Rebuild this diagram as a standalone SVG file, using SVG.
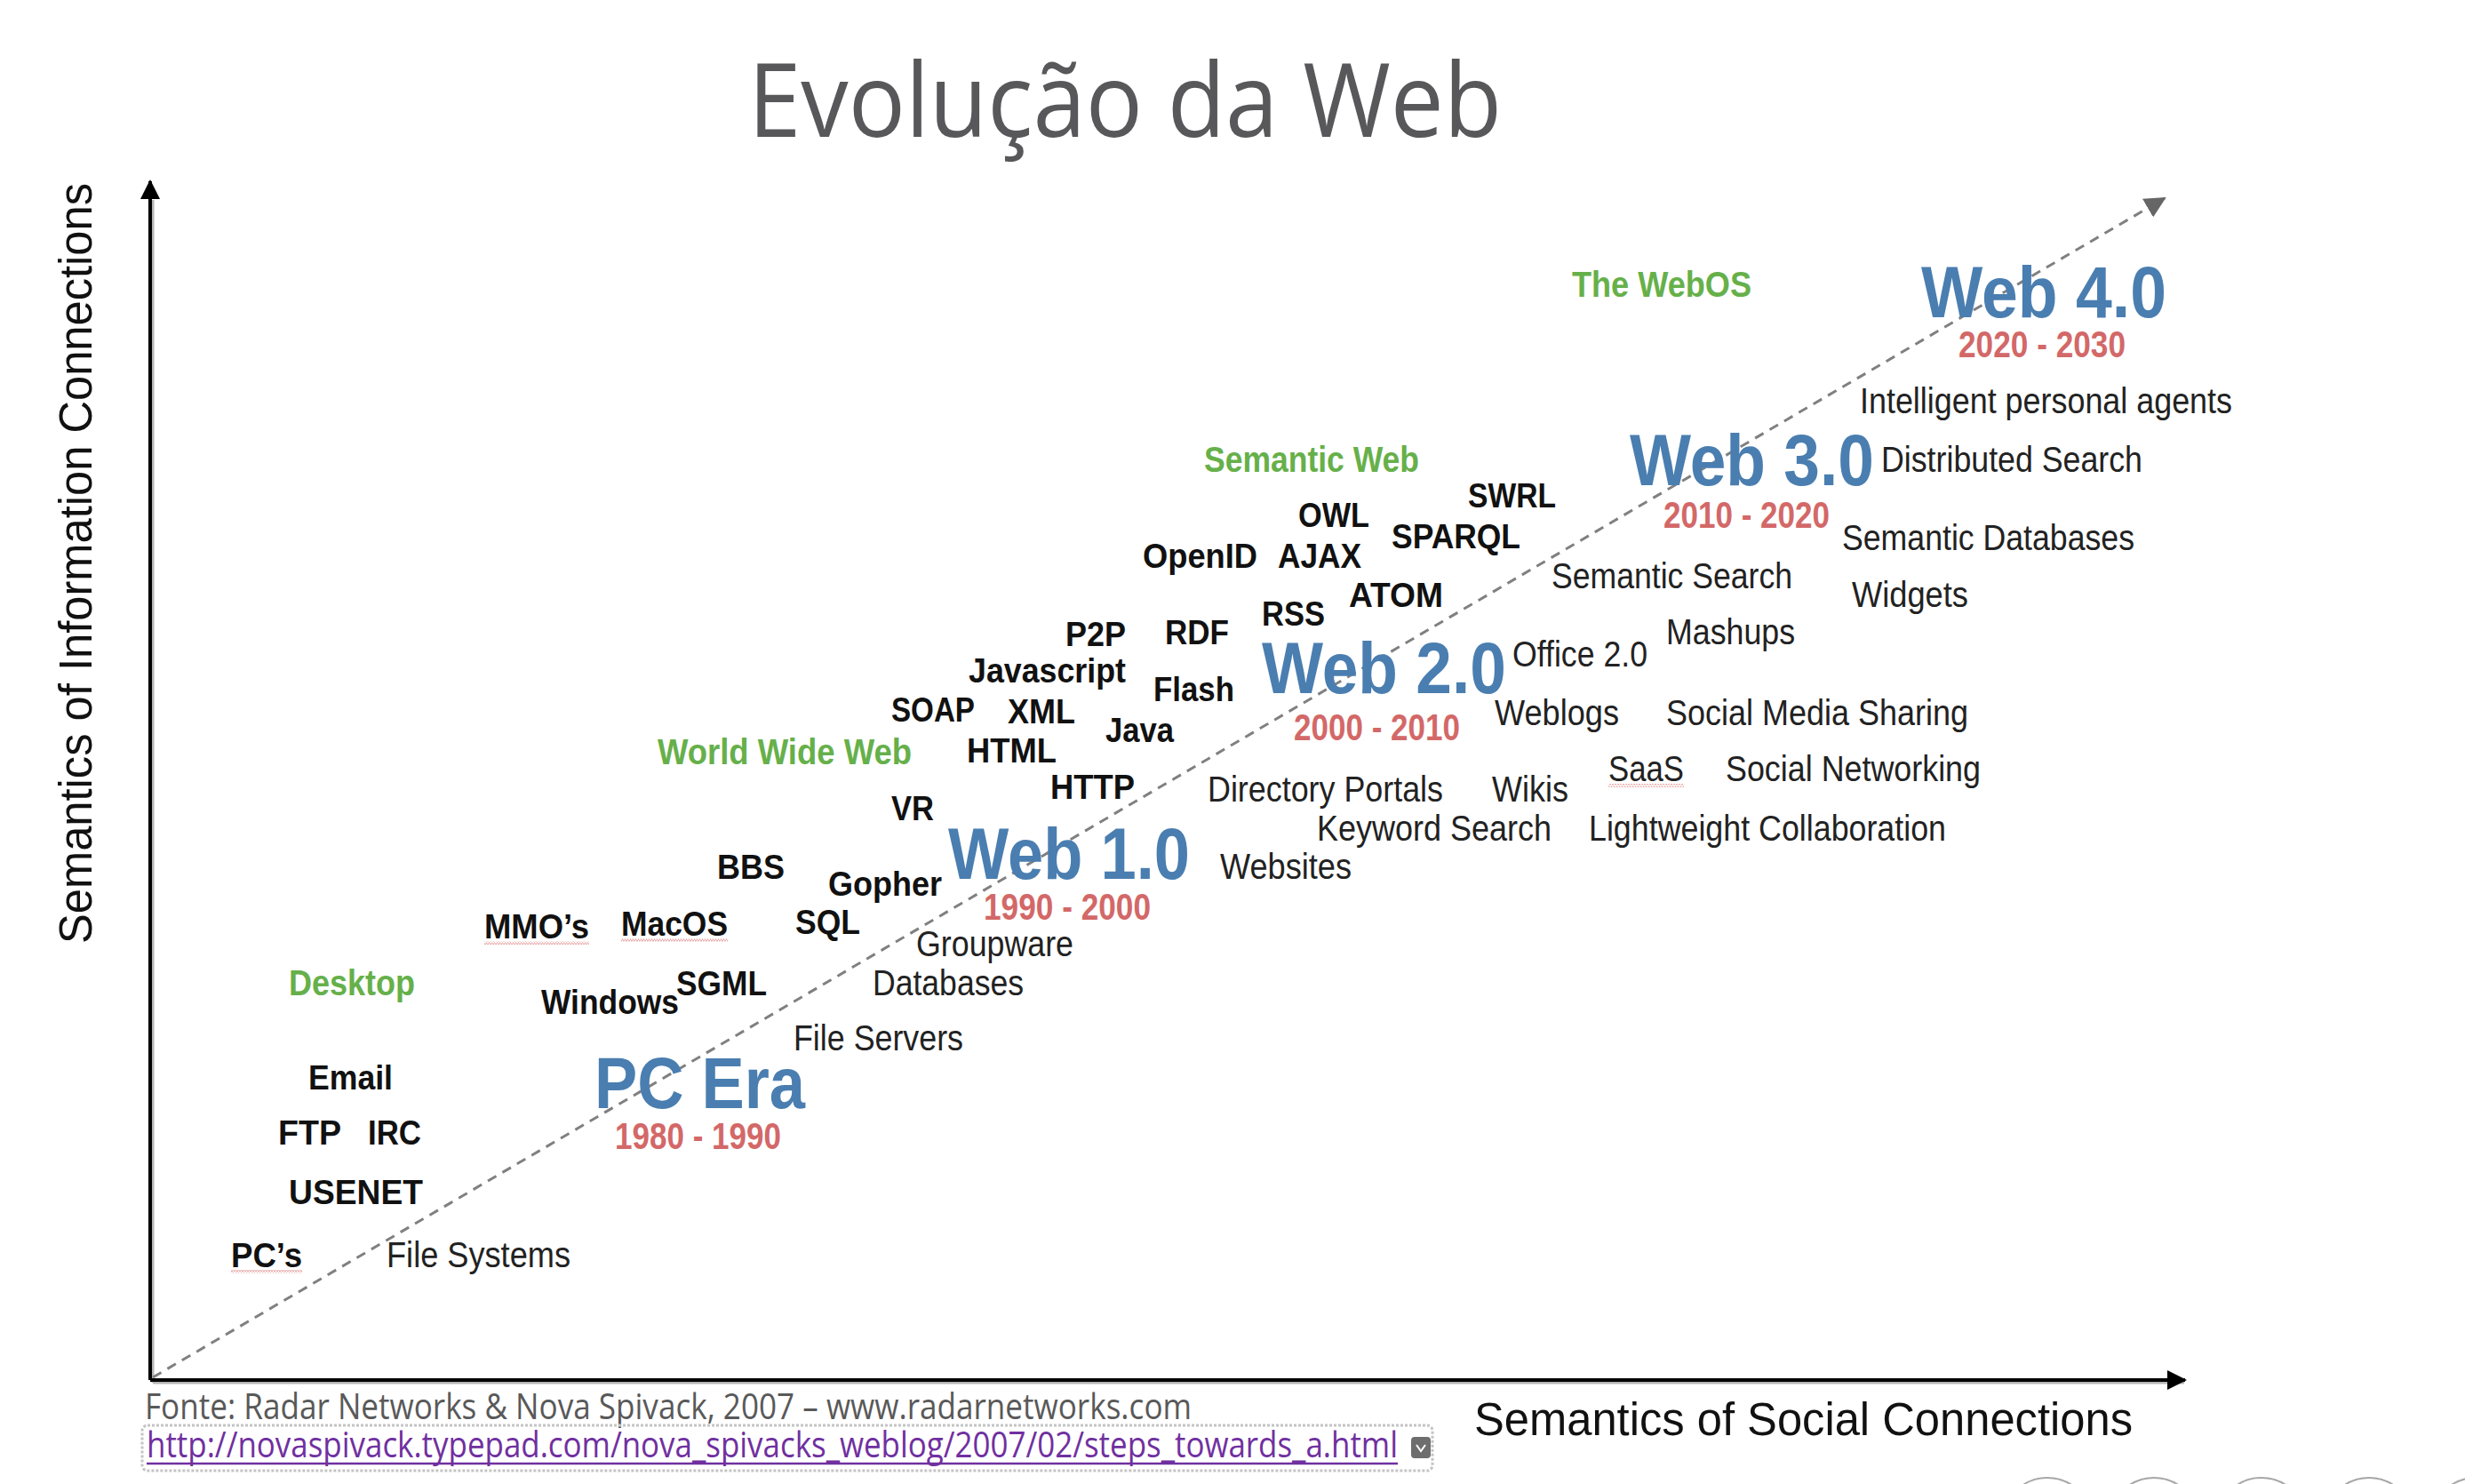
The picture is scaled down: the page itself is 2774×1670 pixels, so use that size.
<svg xmlns="http://www.w3.org/2000/svg" width="2774" height="1670" viewBox="0 0 2774 1670">
<defs>
<style>
text{font-family:"Liberation Sans",Arial,sans-serif}
.t{font-family:"Open Sans","Liberation Sans",sans-serif;font-size:116px;fill:#58585a}
.b{font-size:38px;font-weight:bold;fill:#111}
.n{font-size:40px;fill:#222}
.g{font-size:40px;font-weight:bold;fill:#66b04a}
.e{font-size:82px;font-weight:bold;fill:#4a7eb0}
.y{font-size:42px;font-weight:bold;fill:#d36868}
.ax{font-size:51px;fill:#111}
.f{font-family:"Open Sans","Liberation Sans",sans-serif;font-size:40px;fill:#595959}
.lk{font-family:"Open Sans","Liberation Sans",sans-serif;font-size:40px;fill:#7030a0}
.axis{stroke:#000;stroke-width:4;fill:none}
.shadow{stroke:#b5b5b5;stroke-width:3;fill:none}
.sq{fill:url(#squig);opacity:0.55}
</style>
<marker id="axArrow" markerUnits="userSpaceOnUse" markerWidth="22" markerHeight="22" viewBox="0 0 22 22" refX="20" refY="11" orient="auto">
<path d="M0,0 L22,11 L0,22 z" fill="#000"/>
</marker>
<marker id="diagArrow" markerUnits="userSpaceOnUse" markerWidth="24" markerHeight="24" viewBox="0 0 24 24" refX="22" refY="12" orient="auto">
<path d="M0,0 L24,12 L0,24 z" fill="#666"/>
</marker>
<pattern id="squig" width="6" height="4" patternUnits="userSpaceOnUse">
<path d="M0,3.5 L1.5,0.5 L3,3.5 L4.5,0.5 L6,3.5" stroke="#d04040" stroke-width="0.8" fill="none"/>
</pattern>
</defs>
<rect width="2774" height="1670" fill="#fff"/>

<g id="title"><text class="t" x="842" y="154" textLength="848" lengthAdjust="spacingAndGlyphs">Evolução da Web</text></g>

<g id="connectors">
<line class="shadow" x1="172" y1="1556" x2="2458" y2="1556"/>
<line class="shadow" x1="172" y1="1556" x2="172" y2="225"/>
<line class="axis" x1="169" y1="1553" x2="169" y2="204" marker-end="url(#axArrow)"/>
<line class="axis" x1="169" y1="1553" x2="2459" y2="1553" marker-end="url(#axArrow)"/>
<line x1="172" y1="1550" x2="2436" y2="223" stroke="#808080" stroke-width="3" stroke-dasharray="11 8" marker-end="url(#diagArrow)"/>
</g>

<g id="axis-y-label"><text class="ax" transform="translate(103,634) rotate(-90)" text-anchor="middle" textLength="856" lengthAdjust="spacingAndGlyphs">Semantics of Information Connections</text></g>
<g id="axis-x-label"><text class="ax" x="1659" y="1615" textLength="741" lengthAdjust="spacingAndGlyphs">Semantics of Social Connections</text></g>

<g id="era-web40"><text class="e" x="2162" y="357" textLength="276" lengthAdjust="spacingAndGlyphs">Web 4.0</text><text class="y" x="2204" y="402" textLength="188" lengthAdjust="spacingAndGlyphs">2020 - 2030</text></g>
<g id="era-web30"><text class="e" x="1834" y="546" textLength="275" lengthAdjust="spacingAndGlyphs">Web 3.0</text><text class="y" x="1872" y="594" textLength="187" lengthAdjust="spacingAndGlyphs">2010 - 2020</text></g>
<g id="era-web20"><text class="e" x="1420" y="780" textLength="275" lengthAdjust="spacingAndGlyphs">Web 2.0</text><text class="y" x="1456" y="833" textLength="187" lengthAdjust="spacingAndGlyphs">2000 - 2010</text></g>
<g id="era-web10"><text class="e" x="1067" y="989" textLength="272" lengthAdjust="spacingAndGlyphs">Web 1.0</text><text class="y" x="1107" y="1035" textLength="188" lengthAdjust="spacingAndGlyphs">1990 - 2000</text></g>
<g id="era-pc"><text class="e" x="669" y="1247" textLength="237" lengthAdjust="spacingAndGlyphs">PC Era</text><text class="y" x="692" y="1293" textLength="187" lengthAdjust="spacingAndGlyphs">1980 - 1990</text></g>

<g id="g-webos"><text class="g" x="1769" y="334" textLength="202" lengthAdjust="spacingAndGlyphs">The WebOS</text></g>
<g id="g-semweb"><text class="g" x="1355" y="531" textLength="242" lengthAdjust="spacingAndGlyphs">Semantic Web</text></g>
<g id="g-www"><text class="g" x="740" y="860" textLength="286" lengthAdjust="spacingAndGlyphs">World Wide Web</text></g>
<g id="g-desktop"><text class="g" x="325" y="1120" textLength="142" lengthAdjust="spacingAndGlyphs">Desktop</text></g>

<g id="t-swrl"><text class="b" x="1652" y="571" textLength="99" lengthAdjust="spacingAndGlyphs">SWRL</text></g>
<g id="t-owl"><text class="b" x="1461" y="593" textLength="80" lengthAdjust="spacingAndGlyphs">OWL</text></g>
<g id="t-sparql"><text class="b" x="1566" y="617" textLength="145" lengthAdjust="spacingAndGlyphs">SPARQL</text></g>
<g id="t-openid"><text class="b" x="1286" y="639" textLength="129" lengthAdjust="spacingAndGlyphs">OpenID</text></g>
<g id="t-ajax"><text class="b" x="1438" y="639" textLength="94" lengthAdjust="spacingAndGlyphs">AJAX</text></g>
<g id="t-atom"><text class="b" x="1518" y="683" textLength="106" lengthAdjust="spacingAndGlyphs">ATOM</text></g>
<g id="t-rss"><text class="b" x="1420" y="704" textLength="71" lengthAdjust="spacingAndGlyphs">RSS</text></g>
<g id="t-rdf"><text class="b" x="1311" y="725" textLength="72" lengthAdjust="spacingAndGlyphs">RDF</text></g>
<g id="t-p2p"><text class="b" x="1199" y="727" textLength="68" lengthAdjust="spacingAndGlyphs">P2P</text></g>
<g id="t-javascript"><text class="b" x="1090" y="768" textLength="177" lengthAdjust="spacingAndGlyphs">Javascript</text></g>
<g id="t-flash"><text class="b" x="1298" y="789" textLength="91" lengthAdjust="spacingAndGlyphs">Flash</text></g>
<g id="t-soap"><text class="b" x="1003" y="812" textLength="94" lengthAdjust="spacingAndGlyphs">SOAP</text></g>
<g id="t-xml"><text class="b" x="1134" y="814" textLength="76" lengthAdjust="spacingAndGlyphs">XML</text></g>
<g id="t-java"><text class="b" x="1244" y="835" textLength="77" lengthAdjust="spacingAndGlyphs">Java</text></g>
<g id="t-html"><text class="b" x="1088" y="858" textLength="101" lengthAdjust="spacingAndGlyphs">HTML</text></g>
<g id="t-http"><text class="b" x="1182" y="899" textLength="95" lengthAdjust="spacingAndGlyphs">HTTP</text></g>
<g id="t-vr"><text class="b" x="1003" y="923" textLength="48" lengthAdjust="spacingAndGlyphs">VR</text></g>
<g id="t-bbs"><text class="b" x="807" y="989" textLength="76" lengthAdjust="spacingAndGlyphs">BBS</text></g>
<g id="t-gopher"><text class="b" x="932" y="1008" textLength="128" lengthAdjust="spacingAndGlyphs">Gopher</text></g>
<g id="t-mmos"><text class="b" x="545" y="1056" textLength="118" lengthAdjust="spacingAndGlyphs">MMO’s</text><rect class="sq" x="545" y="1059" width="118" height="4"/></g>
<g id="t-macos"><text class="b" x="699" y="1053" textLength="120" lengthAdjust="spacingAndGlyphs">MacOS</text><rect class="sq" x="699" y="1056" width="120" height="4"/></g>
<g id="t-sql"><text class="b" x="895" y="1051" textLength="73" lengthAdjust="spacingAndGlyphs">SQL</text></g>
<g id="t-sgml"><text class="b" x="761" y="1120" textLength="102" lengthAdjust="spacingAndGlyphs">SGML</text></g>
<g id="t-windows"><text class="b" x="609" y="1141" textLength="155" lengthAdjust="spacingAndGlyphs">Windows</text></g>
<g id="t-email"><text class="b" x="347" y="1226" textLength="95" lengthAdjust="spacingAndGlyphs">Email</text></g>
<g id="t-ftp"><text class="b" x="313" y="1288" textLength="71" lengthAdjust="spacingAndGlyphs">FTP</text></g>
<g id="t-irc"><text class="b" x="414" y="1288" textLength="60" lengthAdjust="spacingAndGlyphs">IRC</text></g>
<g id="t-usenet"><text class="b" x="325" y="1355" textLength="151" lengthAdjust="spacingAndGlyphs">USENET</text></g>
<g id="t-pcs"><text class="b" x="260" y="1426" textLength="80" lengthAdjust="spacingAndGlyphs">PC’s</text><rect class="sq" x="260" y="1429" width="80" height="4"/></g>

<g id="n-agents"><text class="n" x="2093" y="465" textLength="419" lengthAdjust="spacingAndGlyphs">Intelligent personal agents</text></g>
<g id="n-distsearch"><text class="n" x="2117" y="531" textLength="294" lengthAdjust="spacingAndGlyphs">Distributed Search</text></g>
<g id="n-semdb"><text class="n" x="2073" y="619" textLength="329" lengthAdjust="spacingAndGlyphs">Semantic Databases</text></g>
<g id="n-widgets"><text class="n" x="2084" y="683" textLength="131" lengthAdjust="spacingAndGlyphs">Widgets</text></g>
<g id="n-semsearch"><text class="n" x="1746" y="662" textLength="271" lengthAdjust="spacingAndGlyphs">Semantic Search</text></g>
<g id="n-mashups"><text class="n" x="1875" y="725" textLength="145" lengthAdjust="spacingAndGlyphs">Mashups</text></g>
<g id="n-office"><text class="n" x="1702" y="750" textLength="152" lengthAdjust="spacingAndGlyphs">Office 2.0</text></g>
<g id="n-weblogs"><text class="n" x="1682" y="816" textLength="140" lengthAdjust="spacingAndGlyphs">Weblogs</text></g>
<g id="n-socialmedia"><text class="n" x="1875" y="816" textLength="340" lengthAdjust="spacingAndGlyphs">Social Media Sharing</text></g>
<g id="n-saas"><text class="n" x="1810" y="879" textLength="85" lengthAdjust="spacingAndGlyphs">SaaS</text><rect class="sq" x="1810" y="882" width="85" height="4"/></g>
<g id="n-socialnet"><text class="n" x="1942" y="879" textLength="287" lengthAdjust="spacingAndGlyphs">Social Networking</text></g>
<g id="n-dirportals"><text class="n" x="1359" y="902" textLength="265" lengthAdjust="spacingAndGlyphs">Directory Portals</text></g>
<g id="n-wikis"><text class="n" x="1679" y="902" textLength="86" lengthAdjust="spacingAndGlyphs">Wikis</text></g>
<g id="n-keyword"><text class="n" x="1482" y="946" textLength="264" lengthAdjust="spacingAndGlyphs">Keyword Search</text></g>
<g id="n-lightweight"><text class="n" x="1788" y="946" textLength="402" lengthAdjust="spacingAndGlyphs">Lightweight Collaboration</text></g>
<g id="n-websites"><text class="n" x="1373" y="989" textLength="148" lengthAdjust="spacingAndGlyphs">Websites</text></g>
<g id="n-groupware"><text class="n" x="1031" y="1076" textLength="177" lengthAdjust="spacingAndGlyphs">Groupware</text></g>
<g id="n-databases"><text class="n" x="982" y="1120" textLength="170" lengthAdjust="spacingAndGlyphs">Databases</text></g>
<g id="n-fileservers"><text class="n" x="893" y="1182" textLength="191" lengthAdjust="spacingAndGlyphs">File Servers</text></g>
<g id="n-filesystems"><text class="n" x="435" y="1426" textLength="207" lengthAdjust="spacingAndGlyphs">File Systems</text></g>

<g id="footer">
<text class="f" x="163" y="1597" textLength="1178" lengthAdjust="spacingAndGlyphs">Fonte: Radar Networks &amp; Nova Spivack, 2007 – www.radarnetworks.com</text>
<rect x="160" y="1604" width="1452" height="51" rx="6" fill="none" stroke="#c4c4c4" stroke-width="3" stroke-dasharray="3 2"/>
<text class="lk" x="165" y="1640" textLength="1408" lengthAdjust="spacingAndGlyphs">http://novaspivack.typepad.com/nova_spivacks_weblog/2007/02/steps_towards_a.html</text>
<line x1="165" y1="1647" x2="1573" y2="1647" stroke="#7030a0" stroke-width="2.5"/>
<rect x="1588" y="1617" width="22" height="24" rx="4" fill="#6e6e6e"/>
<polyline points="1594,1626 1599,1633 1604,1626" fill="none" stroke="#fff" stroke-width="2"/>
</g>

<g id="bottom-controls" fill="none" stroke="#a8a8a8" stroke-width="2">
<circle cx="2304" cy="1713" r="50"/>
<circle cx="2424" cy="1713" r="50"/>
<circle cx="2545" cy="1713" r="50"/>
<circle cx="2666" cy="1713" r="50"/>
<circle cx="2786" cy="1713" r="50"/>
</g>
</svg>
